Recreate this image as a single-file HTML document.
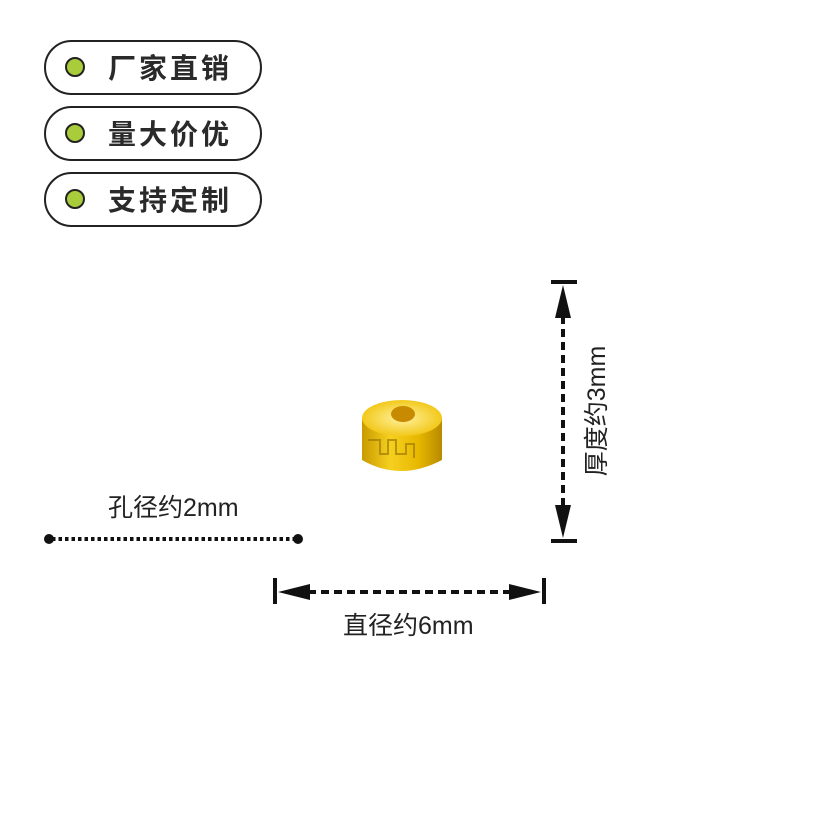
<!DOCTYPE html>
<html><head><meta charset="utf-8"><style>
html,body{margin:0;padding:0;background:#fff;}
body{width:828px;height:828px;position:relative;overflow:hidden;font-family:"Liberation Sans","Noto Sans CJK SC",sans-serif;}
.pill{position:absolute;left:44px;width:214px;height:51px;border:2px solid #222;border-radius:28px;background:#fff;}
.pill .dot{position:absolute;left:19px;top:15px;border-radius:50%;background:#a9cc3a;border:2px solid #222;box-sizing:border-box;width:20px;height:20px;}
.pill .t{position:absolute;left:62px;top:6px;font-size:28px;font-weight:bold;color:#2a2a2a;letter-spacing:3px;line-height:38px;font-family:"Noto Sans CJK SC",sans-serif;}
.lbl{position:absolute;font-size:25px;color:#222;font-family:"Liberation Sans","Noto Sans CJK SC",sans-serif;white-space:nowrap;line-height:30px;}
</style></head><body>
<div class="pill" style="top:40px"><div class="dot"></div><div class="t">厂家直销</div></div>
<div class="pill" style="top:106px"><div class="dot"></div><div class="t">量大价优</div></div>
<div class="pill" style="top:172px"><div class="dot"></div><div class="t">支持定制</div></div>

<svg width="828" height="828" style="position:absolute;left:0;top:0">
<defs>
<linearGradient id="g1" x1="0" x2="1" y1="0" y2="0">
<stop offset="0" stop-color="#c99a00"/><stop offset="0.35" stop-color="#f5d020"/><stop offset="0.7" stop-color="#e8b800"/><stop offset="1" stop-color="#b88a00"/>
</linearGradient>
<radialGradient id="g2" cx="0.5" cy="0.5" r="0.6"><stop offset="0" stop-color="#fff2a0"/><stop offset="1" stop-color="#f0c000"/></radialGradient>
</defs>
<path d="M362 418 L362 460 Q400 482 442 460 L442 418 Z" fill="url(#g1)"/>
<path d="M368 440 h12 v14 h8 v-14 h8 v14 h10 v-10 h8 v14" stroke="#a07a00" stroke-width="2" fill="none" opacity="0.7"/>
<ellipse cx="402" cy="418" rx="40" ry="18" fill="url(#g2)"/>
<ellipse cx="403" cy="414" rx="12" ry="8" fill="#c88a00"/>
<line x1="52" y1="539" x2="295" y2="539" stroke="#111" stroke-width="4" stroke-dasharray="3.5 3"/>
<circle cx="49" cy="539" r="5" fill="#111"/><circle cx="298" cy="539" r="5" fill="#111"/>
<line x1="275" y1="578" x2="275" y2="604" stroke="#111" stroke-width="4"/>
<line x1="544" y1="578" x2="544" y2="604" stroke="#111" stroke-width="4"/>
<line x1="308" y1="592" x2="512" y2="592" stroke="#111" stroke-width="4" stroke-dasharray="8 5"/>
<polygon points="278,592 310,584 310,600" fill="#111"/>
<polygon points="541,592 509,584 509,600" fill="#111"/>
<line x1="551" y1="282" x2="577" y2="282" stroke="#111" stroke-width="4"/>
<line x1="551" y1="541" x2="577" y2="541" stroke="#111" stroke-width="4"/>
<line x1="563" y1="316" x2="563" y2="508" stroke="#111" stroke-width="4" stroke-dasharray="8 5"/>
<polygon points="563,285 555,318 571,318" fill="#111"/>
<polygon points="563,538 555,505 571,505" fill="#111"/>
</svg>

<div class="lbl" style="left:108px;top:493px">孔径约2mm</div>
<div class="lbl" style="left:343px;top:611px">直径约6mm</div>
<div class="lbl" style="left:527px;top:396px;transform:rotate(-90deg);transform-origin:center;width:140px;text-align:center">厚度约3mm</div>
</body></html>
